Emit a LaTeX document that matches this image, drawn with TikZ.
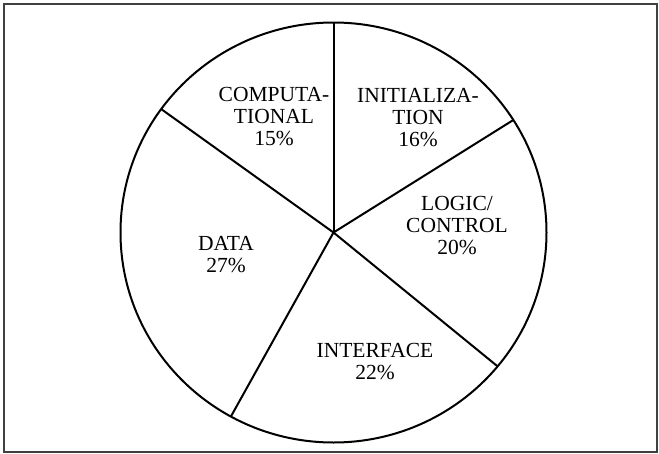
\documentclass[tikz,border=0pt]{standalone}
\usepackage{fontspec}
\setmainfont{Liberation Serif}
\usetikzlibrary{positioning}

\begin{document}
\begin{tikzpicture}[
      x=1pt, y=-1pt,
      font=\fontsize{21.5}{22}\selectfont,
      rim/.style={line width=2pt},
      lbl/.style={align=center, inner sep=0pt}
    ]
    \useasboundingbox (0,0) rectangle (659,453);
    % Rahmen
    \draw[line width=2pt, black!75] (4,4) rectangle (657,451.5);

    % Kreis und Trennlinien
    \coordinate (mid) at (333.5,232.5);
    \draw[rim] (mid) ellipse[x radius=213pt, y radius=210pt];
    \foreach \a in {90, 32.4, -39.6, -118.8, 144}
      \draw[rim] (mid) -- ++(\a:213pt and 210pt);

    % Beschriftungen
    \node[lbl] (comp) at (274,117) {COMPUTA-\\TIONAL\\15\%};
    \node[lbl] (init) at (418,118) {INITIALIZA-\\TION\\16\%};
    \node[lbl] (logic) at (457,226) {LOGIC/\\CONTROL\\20\%};
    \node[lbl] (data) at (226,255) {DATA\\27\%};
    \node[lbl] (iface) at (375,362) {INTERFACE\\22\%};
  \end{tikzpicture}
\end{document}
